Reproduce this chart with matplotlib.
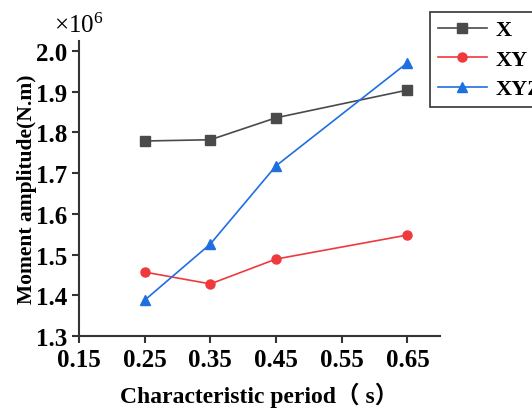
import numpy as np
import matplotlib.pyplot as plt

plt.rcParams['font.family'] = ['Liberation Serif', 'Noto Sans CJK SC']
plt.rcParams['font.weight'] = 'bold'
plt.rcParams['mathtext.default'] = 'regular'

periods = [0.25, 0.35, 0.45, 0.65]
moment_x = [1.779, 1.782, 1.836, 1.904]
moment_xy = [1.457, 1.428, 1.489, 1.548]
moment_xyz = [1.388, 1.526, 1.718, 1.971]
xticks = [0.15, 0.25, 0.35, 0.45, 0.55, 0.65]
yticks = [1.3, 1.4, 1.5, 1.6, 1.7, 1.8, 1.9, 2.0]

fig = plt.figure(figsize=(5.32, 4.10), dpi=100)
ax = fig.add_axes([0.1485, 0.178, 0.679, 0.72])

ax.plot(periods, moment_x, color="#4a4a4a", marker="s", markersize=6.5, lw=1.2, label="X")
ax.plot(periods, moment_xy, color="#f0393c", marker="o", markersize=6.5, lw=1.2, label="XY")
ax.plot(periods, moment_xyz, color="#1f6fe0", marker="^", markersize=6.5, lw=1.2, label="XYZ")

ax.set_xlim(0.15, 0.70)
ax.set_ylim(1.3, 2.025)
ax.set_xticks(xticks)
ax.set_yticks(yticks)
ax.set_xticklabels([f"{t:.2f}" for t in xticks])
ax.set_yticklabels([f"{t:.1f}" for t in yticks])
ax.tick_params(labelsize=18, width=1.5, length=5, direction="out", color="#333333")
for s in ["top", "right"]:
    ax.spines[s].set_visible(False)
for s in ["left", "bottom"]:
    ax.spines[s].set_linewidth(1.5)
    ax.spines[s].set_color("#333333")

ax.set_xlabel("Characteristic period（ s）", fontsize=17, fontweight="bold", labelpad=8)
ax.set_ylabel("Moment amplitude(N.m)", fontsize=15.5, fontweight="bold", labelpad=-1)
ax.text(0.0, 1.03, "×10$^{6}$", transform=ax.transAxes, fontsize=18,
        ha="center", va="baseline", fontweight="normal")

leg = fig.legend(loc="upper left", bbox_to_anchor=(0.808, 0.968), fontsize=16,
                 frameon=True, fancybox=False, handlelength=2.2, borderpad=0.35,
                 labelspacing=0.4, handletextpad=0.4, borderaxespad=0)
leg.get_frame().set_edgecolor("black")
leg.get_frame().set_linewidth(1.2)

plt.savefig("out.png", dpi=100)
